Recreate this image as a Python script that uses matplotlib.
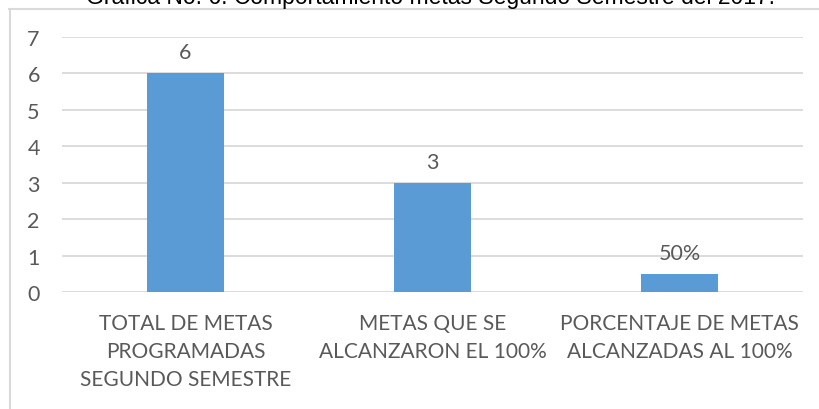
import matplotlib.pyplot as plt
from matplotlib.lines import Line2D

# Data
categories = ['TOTAL DE METAS\nPROGRAMADAS\nSEGUNDO SEMESTRE',
              'METAS QUE SE\nALCANZARON EL 100%',
              'PORCENTAJE DE METAS\nALCANZADAS AL 100%']
values = [6, 3, 0.5]
value_labels = ['6', '3', '50%']
yticks = [0, 1, 2, 3, 4, 5, 6, 7]

W, H = 819, 410
font = ['Lato', 'DejaVu Sans']
gray = '#595959'

fig = plt.figure(figsize=(W / 100, H / 100), dpi=100)
ax = fig.add_axes([62 / W, 1 - 293 / H, (803 - 62) / W, (293 - 38) / H])

x = range(len(categories))
ax.bar(x, values, width=0.31, color='#5B9BD5', zorder=3)
ax.set_xlim(-0.5, 2.5)
ax.set_ylim(0, 7)
ax.set_yticks(yticks)
ax.set_yticklabels([str(t) for t in yticks], fontfamily=font, fontsize=15.5, color=gray)
ax.set_xticks(list(x))
ax.set_xticklabels(categories, fontfamily=font, fontsize=15, color=gray,
                   linespacing=1.5, va='top')
ax.tick_params(axis='x', length=0, pad=15)
ax.tick_params(axis='y', length=0, pad=16)

ax.grid(axis='y', color='#D9D9D9', linewidth=1.3, zorder=0)
for s in ax.spines.values():
    s.set_visible(False)

for xi, v, t in zip(x, values, value_labels):
    ax.annotate(t, (xi, v), xytext=(0, 8), textcoords='offset points',
                ha='center', va='bottom', fontfamily=font, fontsize=15.5, color=gray)

# chart frame (left and top edges only visible)
fig.add_artist(Line2D([9.5 / W, 9.5 / W], [0, 1 - 10 / H], transform=fig.transFigure,
                      color='#D9D9D9', linewidth=1.5))
fig.add_artist(Line2D([9 / W, 1], [1 - 10 / H, 1 - 10 / H], transform=fig.transFigure,
                      color='#D9D9D9', linewidth=1.5))

# title, clipped at the top edge as in the source
fig.text(431 / W, 1 - 4 / H, 'Gráfica No. 6. Comportamiento metas Segundo Semestre del 2017.',
         ha='center', va='baseline', fontfamily=['Liberation Sans', 'DejaVu Sans'],
         fontsize=16.5, color='black')

fig.savefig('out.png', dpi=100)
